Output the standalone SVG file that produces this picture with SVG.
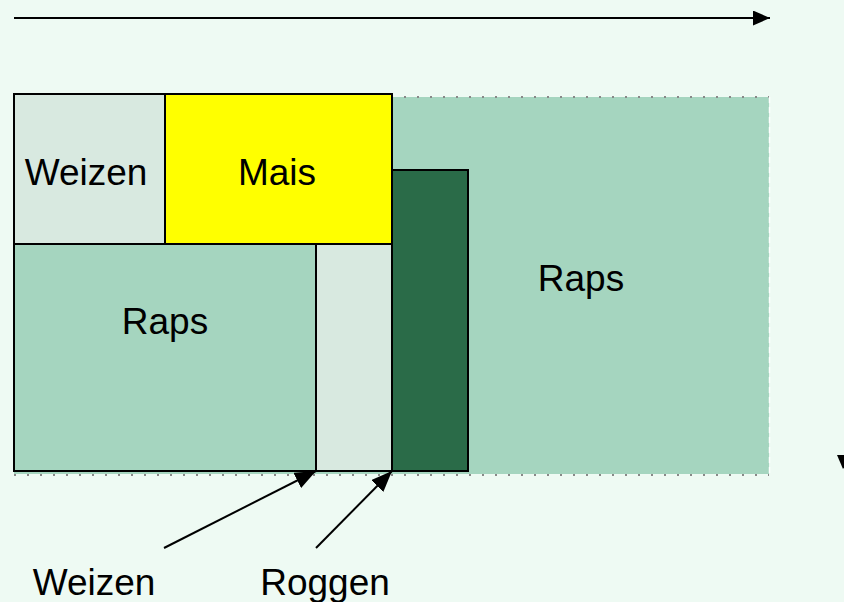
<svg xmlns="http://www.w3.org/2000/svg" width="844" height="602" viewBox="0 0 844 602">
<defs>
<style>
.box{stroke:#000;stroke-width:2}
.lbl{font-family:"Liberation Sans",Arial,sans-serif;font-size:37px;fill:#000;text-anchor:middle}
.con{stroke:#000;stroke-width:2;fill:none}
.dot{stroke:#888;stroke-width:2;stroke-dasharray:2 11;fill:none}
</style>
<marker id="ah2" viewBox="0 0 10 10" refX="10" refY="5" markerWidth="17" markerHeight="15" markerUnits="userSpaceOnUse" orient="auto" preserveAspectRatio="none">
<path d="M0,0 L10,5 L0,10 z" fill="#000"/>
</marker>
<marker id="ah3" viewBox="0 0 10 10" refX="10" refY="5" markerWidth="21" markerHeight="17" markerUnits="userSpaceOnUse" orient="auto" preserveAspectRatio="none">
<path d="M0,0 L10,5 L0,10 z" fill="#000"/>
</marker>
</defs>
<rect width="844" height="602" fill="#EEFAF3"/>
<g id="raps-right">
<rect x="14" y="97" width="755" height="377" fill="#A5D5BF"/>
<line x1="14" y1="97" x2="769" y2="97" class="dot"/>
<line x1="14" y1="475" x2="769" y2="475" class="dot"/>
<line x1="769.5" y1="97" x2="769.5" y2="474" stroke="#fff" stroke-width="1.5" stroke-dasharray="6 4"/>
<text class="lbl" x="581" y="291">Raps</text>
</g>
<g id="weizen-top">
<rect class="box" x="14" y="94" width="151" height="150" fill="#D8E9E0"/>
<text class="lbl" x="86" y="185">Weizen</text>
</g>
<g id="mais">
<rect class="box" x="165" y="94" width="227" height="150" fill="#FFFF00"/>
<text class="lbl" x="277" y="185">Mais</text>
</g>
<g id="raps-left">
<rect class="box" x="14" y="244" width="302" height="227" fill="#A5D5BF"/>
<text class="lbl" x="165" y="334">Raps</text>
</g>
<g id="weizen-strip">
<rect class="box" x="316" y="244" width="76" height="227" fill="#D8E9E0"/>
</g>
<g id="roggen-strip">
<rect class="box" x="392" y="170" width="76" height="301" fill="#2A6B48"/>
</g>
<g id="label-weizen">
<text class="lbl" x="94" y="595">Weizen</text>
</g>
<g id="label-roggen">
<text class="lbl" x="325" y="595">Roggen</text>
</g>
<g id="connectors">
<line class="con" x1="14" y1="18" x2="770" y2="18" marker-end="url(#ah2)"/>
<line class="con" x1="164" y1="548" x2="316" y2="471" marker-end="url(#ah3)"/>
<line class="con" x1="316" y1="548" x2="392" y2="471" marker-end="url(#ah3)"/>
<polygon points="837,455 852,455 843,469" fill="#000"/>
</g>
</svg>
